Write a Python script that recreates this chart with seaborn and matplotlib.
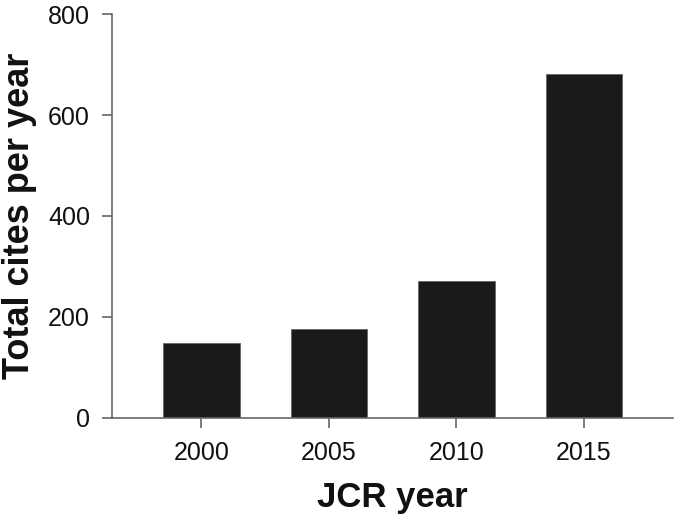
import pandas as pd
import matplotlib
matplotlib.use("Agg")
import matplotlib.pyplot as plt
import seaborn as sns

# total cites per JCR year
years = ["2000", "2005", "2010", "2015"]
cites = [148, 177, 271, 681]

if __name__ == '__main__':
    data = pd.DataFrame({"year": years, "cites": cites})

    sns.set_style("ticks")
    plt.rcParams['font.family'] = ['Liberation Sans', 'DejaVu Sans']

    fig = plt.figure(figsize=(6.8, 5.23), dpi=100)
    ax = fig.add_axes([0.165, 0.201, 0.825, 0.772])

    sns.barplot(data=data, x="year", y="cites", color="#1a1a1a", width=0.6,
                edgecolor="#666666", linewidth=0.6, saturation=1, ax=ax)

    ax.set_xlim(-0.7, 3.7)
    ax.set_ylim(0, 800)
    ax.set_yticks([0, 200, 400, 600, 800])

    for s in ["top", "right"]:
        ax.spines[s].set_visible(False)
    for s in ["left", "bottom"]:
        ax.spines[s].set_color("#666666")
        ax.spines[s].set_linewidth(1.2)

    ax.tick_params(axis="both", direction="out", length=7, width=1.2,
                   color="#666666", labelsize=18, labelcolor="#111111")
    ax.tick_params(axis="x", pad=10)
    ax.tick_params(axis="y", pad=9)

    ax.set_xlabel("JCR year", fontsize=25, fontweight="bold", labelpad=11, color="#111111")
    ax.set_ylabel("Total cites per year", fontsize=26, fontweight="bold", labelpad=8, color="#111111")

    plt.savefig("out.png", dpi=100)
